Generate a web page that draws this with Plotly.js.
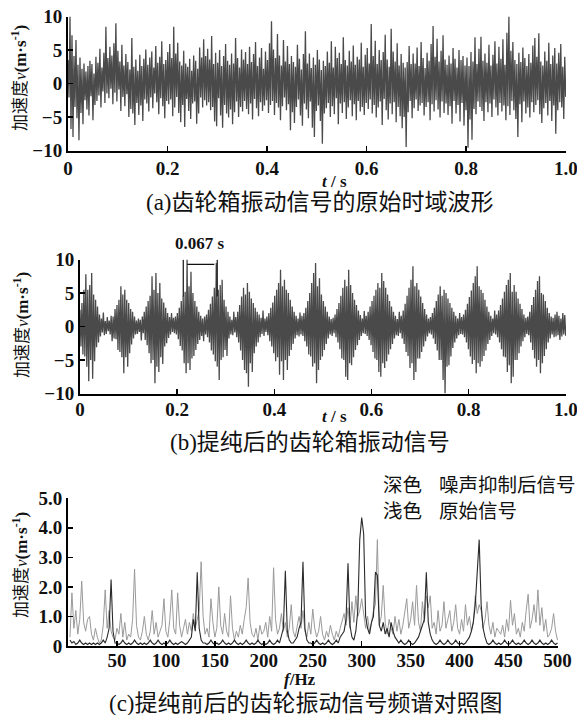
<!DOCTYPE html>
<html>
<head>
<meta charset="utf-8">
<script src="https://cdn.plot.ly/plotly-3.0.1.min.js"></script>
<style>html,body{margin:0;padding:0;background:#fff;}#chart{width:577px;height:715px;}</style>
</head>
<body>
<div id="chart"></div>
<script>
// ---------- data ----------
// (a) original time-domain gearbox vibration signal, 500 samples over 1 s
const rawSignal = [
3.5,-2.1,10,-6.8,7.2,-8,4.1,-3.5,6.5,-5.2,2.8,-8.5,3.9,-4.4,2.2,-6.1,3.0,-2.5,1.8,-3.9,
2.6,-4.8,3.4,-1.9,2.9,-5.5,1.5,-3.2,4.0,-2.6,3.1,-1.8,5.2,-3.6,2.4,-1.2,4.6,-2.9,8.5,-1.5,
3.8,-2.2,5.5,-0.8,4.2,-3.1,6.0,-1.4,9.0,-2.7,4.9,-0.9,3.3,-4.1,5.8,-2.0,2.7,-3.4,4.4,-1.6,
3.2,-5.0,2.1,-3.8,6.8,-4.5,2.5,-6.2,3.6,-2.9,1.9,-4.7,4.3,-3.3,2.6,-5.6,3.7,-2.4,5.1,-3.0,
2.8,-4.2,3.9,-2.1,4.8,-3.7,2.4,-1.5,5.6,-2.8,3.1,-4.6,4.0,-2.2,6.3,-3.4,2.9,-5.2,3.5,-2.6,
4.7,-3.1,5.9,-2.4,3.8,-4.9,8.5,-3.6,4.5,-2.0,6.1,-4.4,3.3,-5.8,2.7,-3.2,4.9,-6.5,3.0,-2.3,
2.5,-4.1,3.7,-5.3,1.9,-3.0,4.2,-2.7,3.4,-6.0,2.2,-4.5,5.4,-2.1,3.9,-3.6,6.6,-2.5,4.1,-3.3,
5.2,-2.8,3.6,-4.0,7.1,-3.5,2.9,-5.7,4.6,-6.4,3.1,-2.2,5.0,-4.8,2.6,-6.6,4.1,-3.2,5.9,-4.5,
3.4,-5.1,2.8,-3.9,4.5,-6.1,3.0,-4.3,6.8,-2.7,3.8,-5.0,2.4,-3.5,5.1,-4.2,3.6,-2.6,4.7,-3.8,
2.9,-4.6,5.5,-3.0,3.2,-5.4,4.4,-2.3,6.2,-3.7,2.6,-4.9,3.9,-2.8,5.3,-4.1,2.2,-3.3,4.8,-2.5,
3.5,-4.4,6.0,-3.2,9.3,-2.6,5.1,-4.7,3.8,-2.9,7.4,-3.6,4.2,-5.5,2.7,-3.4,6.5,-2.1,3.3,-4.0,
5.6,-3.1,2.9,-7.0,4.1,-4.3,3.2,-5.9,2.5,-3.5,5.8,-2.4,3.7,-4.8,2.1,-6.3,4.4,-3.0,7.8,-3.9,
3.0,-5.2,4.5,-2.7,2.3,-6.6,3.9,-8.0,2.8,-4.1,5.0,-3.3,3.6,-5.6,2.0,-9.0,3.4,-4.5,2.6,-3.7,
4.8,-2.9,3.1,-5.0,6.3,-3.4,2.4,-4.6,5.5,-2.2,3.8,-6.1,4.6,-3.0,2.9,-4.4,6.9,-2.8,3.5,-5.3,
2.7,-3.6,4.9,-2.5,3.3,-4.9,5.7,-3.1,2.8,-5.5,4.0,-2.6,3.6,-4.2,6.1,-3.5,2.5,-4.7,4.3,-2.9,
5.3,-3.8,3.0,-2.4,8.9,-4.5,4.1,-3.2,6.4,-5.1,2.9,-3.6,5.0,-2.7,3.5,-6.2,4.7,-2.3,7.3,-4.0,
3.6,-5.4,2.5,-3.0,8.2,-4.6,4.8,-2.8,3.3,-5.8,6.0,-3.5,2.7,-4.9,4.4,-6.7,3.1,-5.0,2.4,-9.5,
3.2,-4.3,5.6,-2.6,2.9,-5.2,4.5,-3.7,3.0,-2.4,5.4,-4.1,2.6,-3.3,6.2,-2.9,3.8,-4.8,2.3,-3.5,
4.6,-2.8,3.4,-5.5,5.9,-3.1,8.6,-4.2,4.0,-2.5,6.7,-3.9,3.3,-5.1,4.9,-2.7,7.2,-4.4,3.6,-3.0,
2.8,-4.7,4.2,-3.4,3.0,-6.0,5.3,-2.6,3.7,-4.5,2.4,-3.2,5.0,-5.7,3.5,-2.9,4.1,-6.3,2.7,-4.0,
3.9,-9.6,2.6,-5.4,4.7,-8.4,3.3,-3.8,6.9,-4.6,2.9,-2.7,5.2,-3.5,7.0,-4.1,3.4,-5.6,4.5,-2.8,
3.1,-4.3,5.8,-3.0,2.7,-5.0,4.3,-2.4,6.3,-3.6,3.0,-4.8,5.5,-2.9,3.7,-4.2,6.6,-3.3,2.8,-5.5,
7.6,-3.4,10,-4.7,4.9,-2.6,6.2,-4.0,3.5,-5.3,2.9,-8.0,4.6,-3.1,3.2,-5.8,5.4,-2.7,3.8,-4.5,
2.6,-3.6,4.4,-5.1,3.1,-2.8,5.7,-4.3,6.8,-3.2,4.0,-2.5,7.5,-4.6,3.3,-5.9,2.7,-3.7,4.8,-2.9,
3.4,-4.8,6.1,-2.6,2.9,-5.6,4.2,-3.3,5.3,-7.5,3.0,-4.0,4.6,-2.8,5.9,-3.6,2.5,-5.3,4.0,-2.0
];
// (b) purified gearbox vibration signal, 500 samples over 1 s
const pureSignal = [
2.5,-3.0,3.5,-4.2,5.5,-4.5,7.8,-6.0,5.5,-8.2,6.2,-5.0,8.0,-7.8,4.8,-5.2,4.0,-3.1,3.0,-2.4,
1.8,-1.5,1.2,-0.9,2.1,-1.3,0.8,-1.1,1.4,-0.7,0.9,-1.2,1.6,-2.2,1.5,-1.8,2.6,-1.9,3.2,-3.5,
4.0,-3.8,6.0,-4.6,4.8,-7.0,5.5,-4.6,4.0,-6.0,3.5,-4.0,2.6,-2.7,2.2,-1.8,1.5,-1.2,0.9,-1.1,
1.2,-0.8,1.0,-2.1,1.5,-1.0,2.2,-2.0,3.0,-2.8,3.8,-4.0,4.6,-5.5,7.5,-5.0,5.5,-8.5,8.0,-6.0,
5.0,-6.8,6.5,-4.6,4.2,-5.6,3.6,-3.0,2.8,-2.5,2.0,-1.7,1.4,-1.2,2.0,-0.8,1.3,-1.0,1.5,-1.2,
2.0,-1.9,2.8,-2.9,3.8,-3.6,4.6,-5.5,5.2,-7.0,10,-5.5,6.0,-6.5,8.2,-4.8,5.0,-4.4,3.8,-3.5,
3.0,-2.6,2.2,-2.0,1.6,-1.4,1.2,-2.2,1.5,-1.2,1.8,-1.6,2.5,-2.4,3.4,-3.6,4.5,-4.2,5.8,-5.2,
9.5,-6.0,5.5,-8.0,6.2,-5.0,7.0,-4.6,4.0,-3.5,3.0,-4.4,2.2,-1.8,1.5,-1.2,1.0,-1.3,2.2,-0.9,
1.4,-1.6,2.2,-2.4,3.2,-3.6,4.5,-5.0,5.8,-6.5,4.8,-7.0,6.5,-9.0,5.2,-5.5,4.2,-6.8,3.5,-4.0,
2.8,-3.0,2.2,-2.4,1.8,-1.6,1.3,-1.1,2.4,-1.4,1.2,-0.8,1.5,-1.3,2.0,-2.2,2.8,-3.0,3.6,-4.0,
4.6,-5.2,5.5,-4.6,6.5,-7.2,8.5,-5.2,6.0,-8.0,7.0,-5.0,5.5,-6.5,5.0,-4.4,4.0,-3.5,3.0,-2.6,
2.2,-1.8,1.6,-1.3,1.2,-1.5,2.1,-1.2,1.6,-1.4,2.0,-2.2,2.8,-3.0,3.8,-4.2,5.0,-4.5,6.5,-6.0,
8.0,-5.5,9.5,-8.5,6.0,-6.5,7.2,-5.0,4.8,-4.5,3.8,-3.5,3.0,-2.6,2.2,-1.8,1.5,-1.2,1.1,-1.4,
1.3,-1.0,1.8,-1.6,2.6,-2.4,3.5,-3.4,4.6,-4.8,5.8,-5.0,7.0,-7.5,6.0,-8.0,8.5,-5.5,6.2,-5.8,
5.0,-4.6,4.0,-3.5,3.2,-2.8,2.4,-2.0,1.7,-1.4,1.2,-1.0,2.3,-1.1,1.6,-1.4,2.2,-2.0,3.0,-2.8,
3.8,-3.8,4.6,-4.8,5.5,-5.0,6.5,-6.8,5.8,-7.5,8.0,-5.5,6.8,-6.2,5.8,-5.2,4.8,-4.2,3.8,-3.4,
3.0,-2.6,2.2,-1.8,1.6,-1.3,1.1,-1.4,2.2,-1.0,1.6,-1.8,2.4,-2.6,3.4,-3.8,4.6,-4.4,5.8,-6.2,
7.0,-5.5,9.0,-8.0,6.0,-6.8,6.5,-4.8,5.5,-4.8,4.5,-3.8,3.5,-3.0,2.6,-2.2,1.8,-1.5,1.2,-1.0,
1.4,-1.2,2.0,-1.8,2.8,-2.6,3.8,-3.6,4.8,-5.0,6.0,-5.0,4.6,-8.0,5.5,-10,5.0,-6.0,4.2,-5.8,
3.5,-4.5,2.8,-3.2,2.2,-2.4,1.6,-1.8,1.2,-1.3,2.0,-1.1,1.4,-1.2,1.8,-1.6,2.5,-2.4,3.4,-3.4,
4.4,-4.5,5.4,-5.6,6.5,-5.0,7.5,-7.0,9.0,-5.5,6.0,-6.0,5.5,-5.2,5.0,-4.4,4.0,-3.6,3.0,-2.6,
2.2,-2.0,1.6,-1.4,1.2,-1.0,2.4,-1.2,1.8,-1.6,2.4,-2.4,3.2,-3.4,4.2,-4.5,5.2,-4.6,6.2,-6.8,
7.0,-5.8,8.0,-8.5,5.2,-7.5,6.2,-5.0,5.2,-5.0,4.2,-4.0,3.4,-3.0,2.6,-2.2,1.8,-1.6,1.3,-1.1,
1.5,-1.3,2.2,-2.4,3.2,-3.5,4.4,-4.8,5.5,-6.0,6.8,-5.0,7.5,-7.0,5.0,-5.5,4.8,-4.4,3.8,-3.4,
2.8,-2.4,2.0,-1.8,1.5,-1.2,1.3,-1.6,1.8,-1.5,2.2,-1.3,1.6,-2.0,1.2,-1.5,2.0,-1.2,1.7,-1.4
];
// (c) amplitude spectra, 2 Hz .. 500 Hz in 2 Hz steps (250 bins)
const specOriginal = [
0.3,1.8,0.6,1.2,0.4,0.9,2.2,0.8,0.5,0.9,
1.0,0.4,0.2,0.6,0.3,0.1,0.2,0.7,1.9,0.6,
1.2,0.5,0.3,0.2,0.6,0.4,1.1,0.3,0.8,0.2,
0.4,0.3,0.9,2.6,0.7,0.3,0.2,0.5,1.0,0.4,
0.2,0.5,1.2,0.4,0.8,0.3,0.5,0.7,1.6,0.5,
0.3,0.9,1.9,0.6,0.4,1.8,0.7,0.3,0.6,0.9,
0.4,0.8,0.5,1.1,0.6,0.9,1.2,2.85,1.0,0.4,
0.6,0.3,1.6,0.8,0.3,0.6,2.0,0.7,0.4,1.1,
0.5,0.3,1.7,0.6,0.2,0.5,0.3,0.7,0.4,0.9,
1.3,2.3,0.8,0.4,0.3,0.6,0.2,0.7,0.4,0.5,
0.8,0.3,1.0,0.5,2.65,0.9,0.4,0.6,1.1,0.5,
0.8,0.3,0.6,1.4,0.5,0.3,0.7,1.0,0.6,1.2,
0.5,0.3,0.8,0.4,1.25,0.6,0.3,0.5,1.0,0.4,
0.2,0.5,0.3,0.7,0.4,0.2,0.5,0.3,0.6,0.9,
1.1,0.7,1.3,0.6,1.5,0.8,1.7,1.0,1.2,1.6,
1.0,0.6,1.0,0.5,0.8,1.2,1.4,3.6,0.7,1.0,
2.05,0.8,0.4,0.9,0.6,0.4,1.0,0.5,0.9,0.4,
0.7,1.2,1.6,0.6,0.9,1.5,0.7,2.05,0.8,0.5,
1.5,0.8,1.7,1.3,1.7,0.6,0.8,0.4,1.2,0.5,
0.7,1.5,0.6,0.9,1.2,0.5,0.8,1.4,0.6,0.4,
0.9,0.5,1.4,0.7,1.0,0.5,0.8,1.7,1.1,1.4,
1.2,0.6,0.9,1.5,0.7,0.4,0.8,0.3,0.6,0.5,
0.4,0.7,0.3,0.9,0.5,1.55,0.7,1.1,0.4,0.6,
0.3,0.8,0.5,1.2,1.75,0.6,0.9,1.4,0.8,1.9,
0.7,1.3,0.5,0.9,0.3,0.4,0.6,1.1,0.5,0.2
];
const specPurified = [
0.2,0.1,0.15,0.05,0.1,0.2,0.1,0.05,0.1,0.05,
0.1,0.05,0.1,0.05,0.1,0.05,0.1,0.2,0.1,0.3,
0.6,2.25,0.5,0.1,0.1,0.05,0.1,0.2,0.1,0.05,
0.1,0.05,0.1,0.2,0.1,0.05,0.1,0.05,0.1,0.05,
0.1,0.2,0.1,0.05,0.1,0.2,0.1,0.05,0.1,0.05,
0.1,0.2,0.1,0.05,0.1,0.05,0.1,0.15,0.1,0.05,
0.1,0.2,0.3,0.9,0.5,2.5,0.6,0.2,0.1,0.1,
0.05,0.1,0.2,0.1,0.05,0.1,0.05,0.1,0.2,0.1,
0.05,0.1,0.05,0.1,0.2,0.1,0.05,0.1,0.05,0.1,
0.2,0.1,0.05,0.1,0.05,0.1,0.2,0.1,0.05,0.1,
0.05,0.1,0.2,0.1,0.05,0.1,0.2,0.1,0.4,0.6,
2.55,0.5,0.2,0.1,0.1,0.2,0.3,0.6,0.8,2.85,
0.6,0.2,0.1,0.1,0.05,0.1,0.2,0.1,0.05,0.1,
0.05,0.1,0.2,0.1,0.05,0.1,0.2,0.1,0.3,0.4,
0.5,0.9,2.8,0.7,0.3,0.2,0.5,1.2,3.6,4.35,
3.8,1.0,0.6,0.4,0.8,1.0,2.5,2.4,0.7,0.5,
0.8,0.4,0.6,0.3,0.8,0.5,0.3,0.2,0.1,0.2,
0.1,0.05,0.1,0.2,0.1,0.05,0.1,0.2,0.3,0.5,
0.7,0.9,2.5,0.8,0.4,0.2,0.1,0.05,0.1,0.2,
0.1,0.05,0.1,0.2,0.1,0.05,0.1,0.2,0.1,0.05,
0.1,0.05,0.1,0.2,0.3,0.5,0.8,1.4,2.6,3.6,
1.4,0.6,0.3,0.1,0.05,0.1,0.2,0.1,0.05,0.1,
0.05,0.1,0.2,0.1,0.05,0.1,0.2,0.1,0.05,0.1,
0.05,0.1,0.2,0.1,0.05,0.1,0.2,0.1,0.05,0.1,
0.2,0.1,0.05,0.1,0.05,0.1,0.2,0.1,0.05,0.1
];
const timeTickVals = [0, 0.2, 0.4, 0.6, 0.8, 1.0];
const timeTickText = ['0', '0.2', '0.4', '0.6', '0.8', '1.0'];
const ampTickVals = [-10, -5, 0, 5, 10];
const ampTickText = ['\u221210', '\u22125', '0', '5', '10'];
const freqTickVals = [50, 100, 150, 200, 250, 300, 350, 400, 450, 500];
const specTickVals = [0, 1, 2, 3, 4, 5];
const specTickText = ['0', '1.0', '2.0', '3.0', '4.0', '5.0'];
const periodMarks = [0.2126, 0.2825];   // two successive impact bursts
const periodLabel = '0.067 s';
const captions = ['(a)齿轮箱振动信号的原始时域波形', '(b)提纯后的齿轮箱振动信号', '(c)提纯前后的齿轮振动信号频谱对照图'];
const legendKeys = ['深色', '浅色'];
const legendNames = ['噪声抑制后信号', '原始信号'];

// ---------- build ----------
const duration = 1.0;
const tRaw = rawSignal.map((_, i) => duration * i / (rawSignal.length - 1));
const tPure = pureSignal.map((_, i) => duration * i / (pureSignal.length - 1));
const binHz = 2;
const freqs = specOriginal.map((_, i) => binHz * (i + 1));

const SERIF = '"Liberation Serif", "Noto Sans CJK SC", serif';
const CJK = '"Liberation Serif", "Noto Sans CJK SC", sans-serif';
const W = 577, H = 715;
const px = v => v / W;
const py = v => (H - v) / H;

const tickFont = {family: SERIF, size: 19, color: '#111', weight: 'bold'};
function axisBase(extra) {
  return Object.assign({
    showline: true, linecolor: '#000', linewidth: 2, ticks: 'inside', ticklen: 5,
    tickwidth: 1.5, tickcolor: '#000', showgrid: false, zeroline: false,
    tickfont: tickFont, tickmode: 'array', fixedrange: true, ticklabeloverflow: 'allow'
  }, extra);
}

const sigColor = '#4a4a4a';
const traces = [
  {x: tRaw, y: rawSignal, xaxis: 'x', yaxis: 'y', type: 'scatter', mode: 'lines',
   line: {color: sigColor, width: 1.3}, hoverinfo: 'skip'},
  {x: tPure, y: pureSignal, xaxis: 'x2', yaxis: 'y2', type: 'scatter', mode: 'lines',
   line: {color: sigColor, width: 1.3}, hoverinfo: 'skip'},
  {x: freqs, y: specOriginal, xaxis: 'x3', yaxis: 'y3', type: 'scatter', mode: 'lines',
   line: {color: '#9a9a9a', width: 1}, name: legendNames[1], hoverinfo: 'skip'},
  {x: freqs, y: specPurified, xaxis: 'x3', yaxis: 'y3', type: 'scatter', mode: 'lines',
   line: {color: '#2a2a2a', width: 1.1}, name: legendNames[0], hoverinfo: 'skip'}
];

function note(text, x, y, size, extra) {
  return Object.assign({text: text, x: x, y: y, xref: 'paper', yref: 'paper', xanchor: 'center', yanchor: 'middle',
    showarrow: false, font: {family: CJK, size: size, color: '#111'}}, extra || {});
}
const ytitle = '加速度<i>v</i><b>(m·s<sup>-1</sup>)</b>';
const annotations = [
  // y-axis titles
  note(ytitle, px(19), py(78), 17, {textangle: -90}),
  note(ytitle, px(21), py(325), 17, {textangle: -90}),
  note(ytitle, px(20), py(565), 17, {textangle: -90}),
  // x-axis titles
  note('<b><i>t</i> / s</b>', px(334), py(182), 17, {font: {family: SERIF, size: 17, color: '#111'}}),
  note('<b><i>t</i> / s</b>', px(334), py(416), 17, {font: {family: SERIF, size: 17, color: '#111'}}),
  note('<b><i>f</i>/Hz</b>', px(300), py(679), 17, {font: {family: SERIF, size: 17, color: '#111'}}),
  // captions
  note(captions[0], px(320), py(202), 23),
  note(captions[1], px(310), py(443), 23),
  note(captions[2], px(306), py(703), 23),
  // period label (x in data units of panel b)
  note('<b>' + periodLabel + '</b>', (periodMarks[0] + periodMarks[1]) / 2, py(244), 17,
    {xref: 'x2', font: {family: SERIF, size: 17, color: '#111'}}),
  // legend text
  note(legendKeys[0], px(381), py(485), 19.5, {xanchor: 'left'}),
  note(legendNames[0], px(437), py(485), 19.5, {xanchor: 'left'}),
  note(legendKeys[1], px(381), py(511), 19.5, {xanchor: 'left'}),
  note(legendNames[1], px(437), py(511), 19.5, {xanchor: 'left'})
];

const shapes = [
  {type: 'line', xref: 'x2', yref: 'y2', x0: periodMarks[0], x1: periodMarks[0], y0: 4.5, y1: 10,
   line: {color: '#111', width: 1.2}},
  {type: 'line', xref: 'x2', yref: 'y2', x0: periodMarks[1], x1: periodMarks[1], y0: 4.5, y1: 10,
   line: {color: '#111', width: 1.2}},
  {type: 'line', xref: 'x2', yref: 'y2', x0: periodMarks[0] + 0.008, x1: periodMarks[1] - 0.006, y0: 9.3, y1: 9.3,
   line: {color: '#111', width: 1.2}}
];

const layout = {
  width: W, height: H, margin: {l: 0, r: 0, t: 0, b: 0},
  paper_bgcolor: '#fff', plot_bgcolor: '#fff', showlegend: false,
  xaxis: axisBase({domain: [px(68), px(566)], range: [0, 1.0005], anchor: 'y', tickvals: timeTickVals, ticktext: timeTickText}),
  yaxis: axisBase({domain: [py(150.5), py(16.5)], range: [-10.02, 10.02], anchor: 'x', tickvals: ampTickVals, ticktext: ampTickText}),
  xaxis2: axisBase({domain: [px(80), px(566)], range: [0, 1.0005], anchor: 'y2', tickvals: timeTickVals, ticktext: timeTickText,
    ticklabelstandoff: -2}),
  yaxis2: axisBase({domain: [py(393.5), py(259.5)], range: [-10.02, 10.02], anchor: 'x2', tickvals: ampTickVals, ticktext: ampTickText}),
  xaxis3: axisBase({domain: [px(68), px(558)], range: [0, 500.5], anchor: 'y3', tickvals: freqTickVals,
    ticktext: freqTickVals.map(String), ticklabelstandoff: -4}),
  yaxis3: axisBase({domain: [py(646), py(498)], range: [0, 5.01], anchor: 'x3', tickvals: specTickVals, ticktext: specTickText}),
  annotations: annotations,
  shapes: shapes
};

Plotly.newPlot('chart', traces, layout, {staticPlot: true, displayModeBar: false});
</script>
</body>
</html>
